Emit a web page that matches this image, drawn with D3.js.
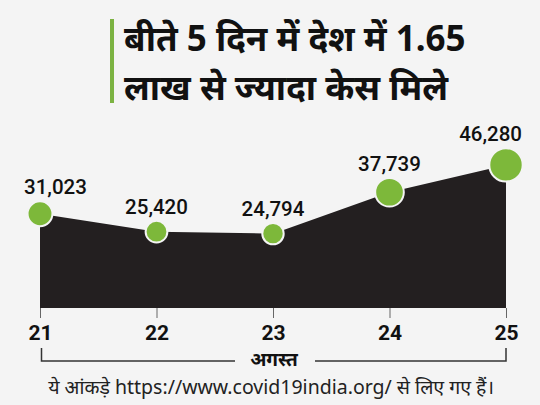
<!DOCTYPE html>
<html>
<head>
<meta charset="utf-8">
<script src="https://cdn.jsdelivr.net/npm/d3@7"></script>
<style>
    html, body { margin: 0; padding: 0; background: #f4f4f4; }
    svg { display: block; }
</style>
</head>
<body>
<div id="viz"></div>
<script>
"use strict";
(function(){
    // data
    const days = ["21", "22", "23", "24", "25"]
    const cases = [31023, 25420, 24794, 37739, 46280]
    const titleLines = ["बीते 5 दिन में देश में 1.65", "लाख से ज्यादा केस मिले"]
    const monthLabel = "अगस्त"
    const sourceNote = "ये आंकड़े https://www.covid19india.org/ से लिए गए हैं।"

    const measurements = {
        width: 540,
        height: 405,
        left: 40,
        right: 506,
        baseline: 308
    }
    const colors = {
        bg: "#f4f4f4",
        area: "#231f20",
        dot: "#7db83a",
        bar: "#7cb342",
        text: "#111111"
    }
    const devFont = "'Noto Sans', 'Noto Sans Devanagari', sans-serif"
    const numFont = "Roboto, 'Open Sans', sans-serif"

    const data = days.map((d, i) => ({day: d, value: cases[i]}))

    const svgContainer = d3.select('#viz').append("svg")
        .attr('width', measurements.width)
        .attr('height', measurements.height)
        .style('background', colors.bg)

    // title with green bar
    svgContainer.append('rect')
        .attr('x', 110)
        .attr('y', 19)
        .attr('width', 4)
        .attr('height', 84)
        .attr('fill', colors.bar)

    svgContainer.selectAll('.title')
        .data(titleLines)
        .enter()
        .append('text')
            .attr('class', 'title')
            .attr('x', 124)
            .attr('y', (d, i) => 51 + i * 49)
            .attr('font-family', devFont)
            .attr('font-weight', 700)
            .attr('font-size', 35)
            .attr('fill', colors.text)
            .text(d => d)

    // scales
    const scaleX = d3.scalePoint()
        .domain(days)
        .range([measurements.left, measurements.right])

    const scaleY = d3.scaleLinear()
        .domain([0, 50000])
        .range([313, 153])

    const scaleR = d3.scaleLinear()
        .domain(d3.extent(cases))
        .range([10.7, 16.7])

    // area
    const area = d3.area()
        .x(d => scaleX(d.day))
        .y0(measurements.baseline)
        .y1(d => scaleY(d.value))

    svgContainer.append('path')
        .datum(data)
        .attr('d', area)
        .attr('fill', colors.area)

    // axis
    const axis = svgContainer.append('g')
        .attr('transform', 'translate(0,' + measurements.baseline + ')')
        .call(d3.axisBottom(scaleX).tickSize(10).tickPadding(7))
    axis.select('.domain').remove()
    axis.selectAll('line').attr('stroke', '#666').attr('stroke-width', 1)
    axis.selectAll('text')
        .attr('font-family', numFont)
        .attr('font-weight', 700)
        .attr('font-size', 21)
        .attr('fill', colors.text)

    // dots
    svgContainer.selectAll('.dot')
        .data(data)
        .enter()
        .append('circle')
            .attr('class', 'dot')
            .attr('cx', d => scaleX(d.day))
            .attr('cy', d => scaleY(d.value))
            .attr('r', d => scaleR(d.value))
            .attr('fill', colors.dot)
            .attr('stroke', '#f4f4f4')
            .attr('stroke-width', 2)

    // value labels, first and last kept inside the frame
    const fmt = d3.format(",")
    const last = data.length - 1
    svgContainer.selectAll('.value')
        .data(data)
        .enter()
        .append('text')
            .attr('class', 'value')
            .attr('x', (d, i) => {
                if (i === 0) return scaleX(d.day) - 16
                if (i === last) return scaleX(d.day) + 16
                return scaleX(d.day)
            })
            .attr('y', d => scaleY(d.value) - scaleR(d.value) - 7)
            .attr('text-anchor', (d, i) => i === 0 ? 'start' : (i === last ? 'end' : 'middle'))
            .attr('font-family', numFont)
            .attr('font-weight', 500)
            .attr('font-size', 20.5)
            .attr('fill', colors.text)
            .text(d => fmt(d.value))

    // month bracket
    const x0 = scaleX(days[0]) + 1.5
    const x1 = scaleX(days[last])
    svgContainer.append('path')
        .attr('d', `M${x0},348V361H235M315,361H${x1}V348`)
        .attr('fill', 'none')
        .attr('stroke', '#333')
        .attr('stroke-width', 1.5)

    svgContainer.append('text')
        .attr('x', 274)
        .attr('y', 366)
        .attr('text-anchor', 'middle')
        .attr('font-family', devFont)
        .attr('font-weight', 700)
        .attr('font-size', 19)
        .attr('fill', colors.text)
        .text(monthLabel)

    svgContainer.append('text')
        .attr('x', 271)
        .attr('y', 394)
        .attr('text-anchor', 'middle')
        .attr('font-family', devFont)
        .attr('font-size', 19.5)
        .attr('fill', '#222')
        .text(sourceNote)
})()
</script>
</body>
</html>
